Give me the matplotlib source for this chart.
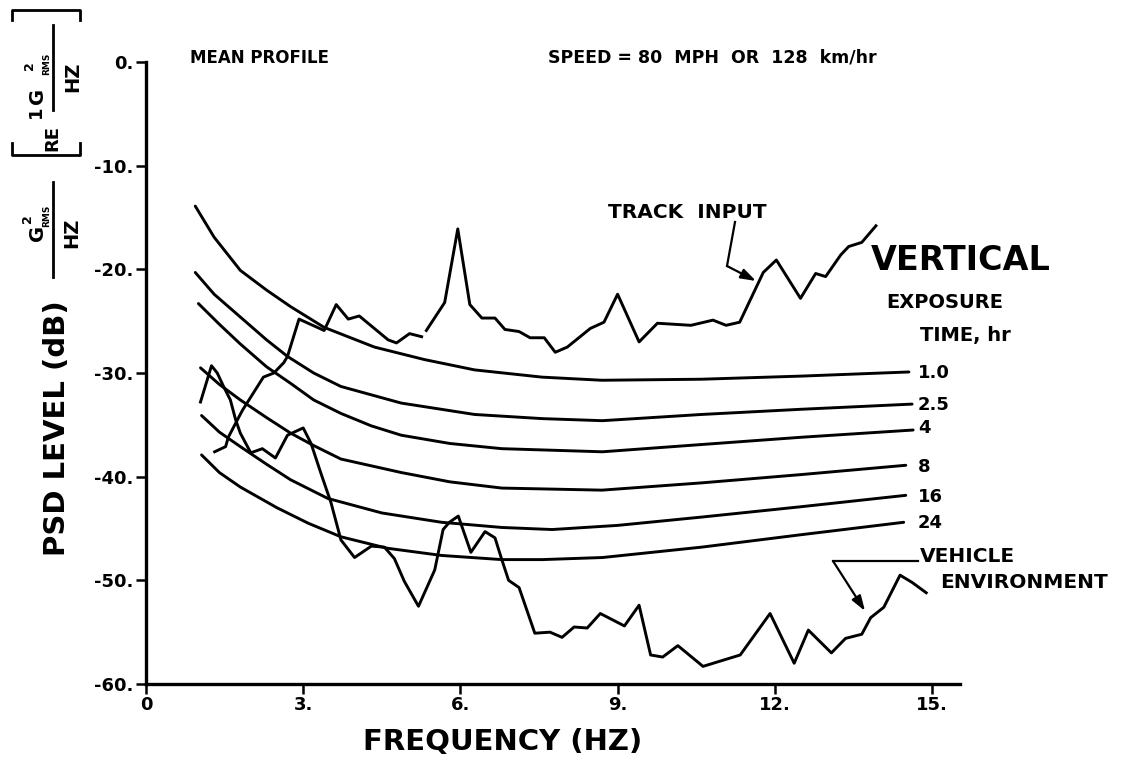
import matplotlib
matplotlib.use("Agg")
import matplotlib.pyplot as plt
from matplotlib.lines import Line2D
import numpy as np

plt.rcParams['font.family'] = ['DejaVu Sans']
plt.rcParams['font.weight'] = 'bold'

W, H = 1135, 767

# ---- data ----
x_ticks = [0, 3, 6, 9, 12, 15]
x_tick_labels = ["0", "3.", "6.", "9.", "12.", "15."]
y_ticks = [0, -10, -20, -30, -40, -50, -60]
y_tick_labels = ["0.", "-10.", "-20.", "-30.", "-40.", "-50.", "-60."]

exposure_labels = ["1.0", "2.5", "4", "8", "16", "24"]
exp_1_x = [0.94, 1.3, 1.8, 2.3, 2.76, 3.4, 4.36, 5.31, 6.27, 7.56, 8.7, 10.6, 12.5, 14.56]
exp_1_y = [-13.9, -16.9, -20.1, -22.0, -23.6, -25.6, -27.5, -28.7, -29.7, -30.4, -30.7, -30.6, -30.3, -29.9]
exp_25_x = [0.94, 1.3, 1.8, 2.3, 2.7, 3.2, 3.72, 4.87, 6.27, 7.56, 8.71, 10.6, 12.5, 14.62]
exp_25_y = [-20.3, -22.4, -24.6, -26.8, -28.4, -30.0, -31.3, -32.9, -34.0, -34.4, -34.6, -34.0, -33.5, -33.0]
exp_4_x = [1.0, 1.4, 1.8, 2.3, 2.76, 3.2, 3.72, 4.3, 4.87, 5.8, 6.79, 8.71, 10.6, 12.5, 14.64]
exp_4_y = [-23.3, -25.3, -27.2, -29.4, -31.0, -32.6, -33.9, -35.1, -36.0, -36.8, -37.3, -37.6, -36.9, -36.2, -35.5]
exp_8_x = [1.04, 1.4, 1.8, 2.3, 2.76, 3.2, 3.72, 4.87, 5.8, 6.79, 8.7, 10.6, 12.5, 14.5]
exp_8_y = [-29.5, -31.1, -32.6, -34.3, -35.8, -37.0, -38.3, -39.6, -40.5, -41.1, -41.3, -40.6, -39.8, -38.9]
exp_16_x = [1.06, 1.4, 1.8, 2.3, 2.76, 3.47, 4.5, 5.64, 6.79, 7.75, 9.0, 10.6, 12.5, 14.5]
exp_16_y = [-34.1, -35.7, -37.1, -38.8, -40.3, -42.1, -43.5, -44.4, -44.9, -45.1, -44.7, -43.9, -42.9, -41.8]
exp_24_x = [1.06, 1.4, 1.8, 2.5, 3.1, 3.72, 4.6, 5.64, 6.79, 7.56, 8.71, 10.6, 12.5, 14.46]
exp_24_y = [-37.9, -39.6, -41.0, -43.0, -44.5, -45.8, -46.9, -47.6, -48.0, -48.0, -47.8, -46.8, -45.6, -44.4]

track_x = [1.31, 1.52, 1.57, 1.84, 2.24, 2.44, 2.63, 2.70, 2.92, 3.40, 3.63, 3.86, 4.07, 4.62, 4.78,
           5.03, 5.26, np.nan, 5.35, 5.70, 5.95, 6.18, 6.41, 6.66, 6.85, 7.12, 7.33, 7.60, 7.81, 8.04,
           8.48, 8.74, 9.0, 9.41, 9.76, 10.40, 10.82, 11.07, 11.33, 11.78, 12.03, 12.49, 12.78, 12.97,
           13.26, 13.41, 13.66, 13.93]
track_y = [-37.6, -37.1, -36.2, -33.6, -30.4, -30.0, -29.0, -28.4, -24.8, -25.9, -23.4, -24.8, -24.5,
           -26.8, -27.1, -26.2, -26.5, np.nan, -25.9, -23.2, -16.1, -23.4, -24.7, -24.7, -25.8, -26.0,
           -26.6, -26.6, -28.0, -27.5, -25.7, -25.1, -22.4, -27.0, -25.2, -25.4, -24.9, -25.4, -25.1,
           -20.3, -19.1, -22.8, -20.4, -20.7, -18.6, -17.8, -17.4, -15.8]

veh_x = [1.04, 1.25, 1.36, 1.48, 1.61, 1.71, 1.80, 2.0, 2.22, 2.47, 2.70, 3.0, 3.15, 3.34, 3.53, 3.72,
         3.98, 4.30, 4.55, 4.74, 4.93, 5.20, 5.51, 5.67, 5.79, 5.96, 6.20, 6.47, 6.66, 6.79, 6.92, 7.12,
         7.42, 7.71, 7.94, 8.17, 8.42, 8.67, 9.13, 9.41, 9.63, 9.86, 10.15, 10.63, 11.34, 11.91, 12.37,
         12.64, 13.08, 13.35, 13.66, 13.83, 14.08, 14.39, 14.62, 14.89]
veh_y = [-32.8, -29.3, -30.0, -31.3, -32.6, -34.5, -35.8, -37.7, -37.3, -38.2, -36.0, -35.3, -36.8,
         -39.7, -42.5, -46.1, -47.8, -46.7, -46.8, -47.9, -50.1, -52.5, -49.0, -45.1, -44.4, -43.8,
         -47.3, -45.3, -45.9, -48.0, -50.0, -50.7, -55.1, -55.0, -55.5, -54.5, -54.6, -53.2, -54.4,
         -52.4, -57.2, -57.4, -56.3, -58.3, -57.2, -53.2, -58.0, -54.8, -57.0, -55.6, -55.2, -53.6,
         -52.6, -49.5, -50.2, -51.2]

# ---- figure ----
fig = plt.figure(figsize=(W / 100, H / 100), dpi=100)

def fx(px):
    return px / W

def fy(py):
    return 1 - py / H

ax_l, ax_r, ax_t, ax_b = 146, 960, 62, 684
ax = fig.add_axes([fx(ax_l), fy(ax_b), fx(ax_r) - fx(ax_l), fy(ax_t) - fy(ax_b)])
px_per_hz = 52.4
ax.set_xlim(0, (ax_r - ax_l) / px_per_hz)
ax.set_ylim(-60, 0)

LW = 2.1
for xs, ys in [(exp_1_x, exp_1_y), (exp_25_x, exp_25_y), (exp_4_x, exp_4_y),
               (exp_8_x, exp_8_y), (exp_16_x, exp_16_y), (exp_24_x, exp_24_y)]:
    ax.plot(xs, ys, color='black', lw=LW, solid_capstyle='round', solid_joinstyle='round')
ax.plot(track_x, track_y, color='black', lw=LW, solid_joinstyle='round')
ax.plot(veh_x, veh_y, color='black', lw=LW, solid_joinstyle='round')

for s in ['top', 'right']:
    ax.spines[s].set_visible(False)
for s in ['left', 'bottom']:
    ax.spines[s].set_linewidth(2.4)

ax.set_xticks(x_ticks)
ax.set_xticklabels(x_tick_labels, fontsize=13, fontweight='bold')
ax.set_yticks(y_ticks)
ax.set_yticklabels(y_tick_labels, fontsize=13, fontweight='bold')
ax.tick_params(axis='both', direction='out', length=7, width=1.8, pad=2)

# exposure labels
exp_label_py = [373, 405, 428, 467, 497, 523]
for lab, py in zip(exposure_labels, exp_label_py):
    fig.text(fx(918), fy(py), lab, fontsize=13, fontweight='bold', ha='left', va='center')

fig.text(fx(871), fy(260), "VERTICAL", fontsize=24, fontweight='bold', ha='left', va='center')
fig.text(fx(886), fy(302), "EXPOSURE", fontsize=14, fontweight='bold', ha='left', va='center')
fig.text(fx(920), fy(335), "TIME, hr", fontsize=14, fontweight='bold', ha='left', va='center')

fig.text(fx(190), fy(58), "MEAN PROFILE", fontsize=12, fontweight='bold', ha='left', va='center')
fig.text(fx(548), fy(58), "SPEED = 80  MPH  OR  128  km/hr", fontsize=12.5, fontweight='bold',
         ha='left', va='center')

fig.text(fx(608), fy(213), "TRACK  INPUT", fontsize=14.5, fontweight='bold', ha='left', va='center')
fig.text(fx(920), fy(557), "VEHICLE", fontsize=14.5, fontweight='bold', ha='left', va='center')
fig.text(fx(940), fy(582), "ENVIRONMENT", fontsize=14.5, fontweight='bold', ha='left', va='center')

def d(px, py):
    return ((px - ax_l) / px_per_hz, -(py - ax_t) / 10.367)

# track input pointer
p0, p1, p2 = d(735, 222), d(727, 266), d(756, 281)
ax.plot([p0[0], p1[0]], [p0[1], p1[1]], color='black', lw=1.6, clip_on=False)
ax.annotate("", xy=p2, xytext=p1,
            arrowprops=dict(arrowstyle='-|>,head_length=0.9,head_width=0.3', color='black', lw=1.6,
                            shrinkA=0, shrinkB=0))
# vehicle pointer
q0, q1, q2 = d(918, 561), d(833, 561), d(865, 611)
ax.plot([q0[0], q1[0]], [q0[1], q1[1]], color='black', lw=1.6, clip_on=False)
ax.annotate("", xy=q2, xytext=q1,
            arrowprops=dict(arrowstyle='-|>,head_length=0.9,head_width=0.3', color='black', lw=1.6,
                            shrinkA=0, shrinkB=0))

# axis titles
fig.text(fx(503), fy(742), "FREQUENCY (HZ)", fontsize=21, fontweight='bold', ha='center', va='center')
fig.text(fx(57), fy(428), "PSD LEVEL (dB)", fontsize=21, fontweight='bold', rotation=90,
         ha='center', va='center')

def fline(xs, ys, lw=2.0):
    fig.add_artist(Line2D([fx(v) for v in xs], [fy(v) for v in ys], color='black', lw=lw,
                          transform=fig.transFigure))

# lower fraction G^2_RMS / HZ
fline([53, 53], [182, 277])
fig.text(fx(38), fy(233), "G", fontsize=14, fontweight='bold', rotation=90, ha='center', va='center')
fig.text(fx(27), fy(219), "2", fontsize=9, fontweight='bold', rotation=90, ha='center', va='center')
fig.text(fx(47), fy(216), "RMS", fontsize=6.5, fontweight='bold', rotation=90, ha='center', va='center')
fig.text(fx(72), fy(233), "HZ", fontsize=14, fontweight='bold', rotation=90, ha='center', va='center')

# upper bracket [RE 1G^2_RMS / HZ]
fline([12, 12, 80, 80], [20, 10, 10, 20])
fline([12, 12, 80, 80], [143, 155, 155, 143])
fline([53, 53], [25, 110])
fig.text(fx(52), fy(138), "RE", fontsize=13, fontweight='bold', rotation=90, ha='center', va='center')
fig.text(fx(36), fy(112), "1", fontsize=13, fontweight='bold', rotation=90, ha='center', va='center')
fig.text(fx(37), fy(96), "G", fontsize=14, fontweight='bold', rotation=90, ha='center', va='center')
fig.text(fx(29), fy(66), "2", fontsize=9, fontweight='bold', rotation=90, ha='center', va='center')
fig.text(fx(47), fy(64), "RMS", fontsize=6.5, fontweight='bold', rotation=90, ha='center', va='center')
fig.text(fx(73), fy(77), "HZ", fontsize=14, fontweight='bold', rotation=90, ha='center', va='center')

fig.savefig("out.png", dpi=100)
